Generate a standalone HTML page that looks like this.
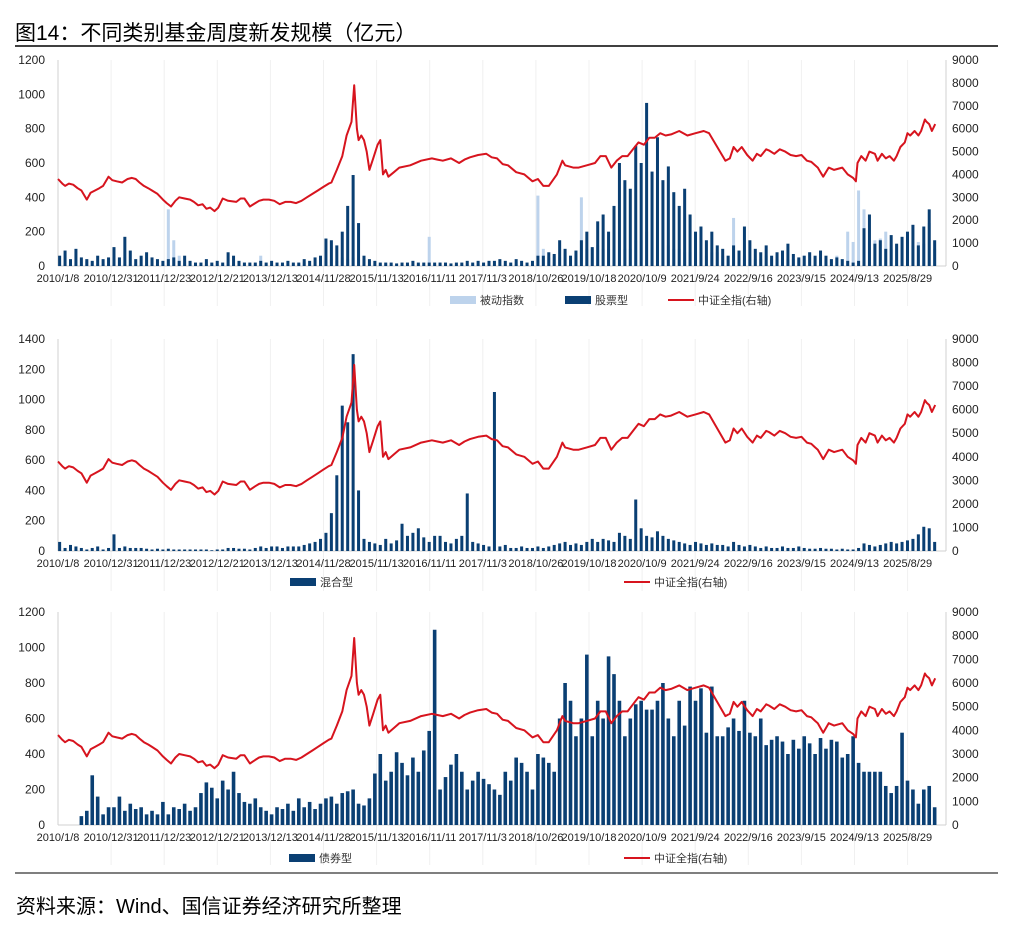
<!DOCTYPE html>
<html><head><meta charset="utf-8">
<style>
body{margin:0;background:#fff;width:1017px;height:932px;overflow:hidden;font-family:"Liberation Sans","Noto Sans CJK SC",sans-serif;}
svg text{font-family:"Liberation Sans","Noto Sans CJK SC",sans-serif;}
</style></head>
<body>
<svg id="c" width="1017" height="932" xmlns="http://www.w3.org/2000/svg">
<text x="15" y="40" font-size="21" fill="#000">图14：不同类别基金周度新发规模（亿元）</text>
<line x1="15" y1="46" x2="998" y2="46" stroke="#000" stroke-width="1.5"/>
<line x1="15" y1="873" x2="998" y2="873" stroke="#555" stroke-width="1.5"/>
<text x="16" y="913" font-size="20" fill="#000">资料来源：Wind、国信证券经济研究所整理</text>
</svg>
<script>
const tickLabels=["2010/1/8","2010/12/31","2011/12/23","2012/12/21","2013/12/13","2014/11/28","2015/11/13","2016/11/11","2017/11/3","2018/10/26","2019/10/18","2020/10/9","2021/9/24","2022/9/16","2023/9/15","2024/9/13","2025/8/29"];
const barStart=2010.05, barStep=0.1;
const passive=[10,10,20,10,10,30,20,10,10,10, 10,40,10,10,10,10,10,10,10,10, 330,150,60,20,10,10,10,10,10,10, 10,10,10,10,20,10,10,60,10,10, 10,10,10,10,10,20,10,10,20,30, 40,30,50,40,50,40,20,10,10,10, 10,10,10,10,10,10,10,10,170,10, 10,10,10,10,10,10,10,10,10,10, 10,10,10,10,10,10,10,10,410,100, 50,60,50,80,60,60,400,100,100,120, 100,100,120,150,100,100,150,150,200,150, 150,150,120,100,100,80,80,80,80,60, 80,80,60,60,280,60,60,40,40,40, 60,40,40,40,40,40,40,60,80,50, 50,40,40,60,40,200,140,440,330,150, 150,160,200,100,120,150,180,120,140,130, 250,100];
const stock=[60,90,40,100,50,40,30,60,40,50, 110,50,170,90,40,60,80,50,40,30, 40,50,30,60,30,20,20,40,20,30, 20,80,60,30,20,20,20,30,20,30, 20,20,30,20,20,40,30,50,60,160, 150,120,200,350,530,250,60,40,30,20, 20,20,15,20,20,30,20,20,20,20, 20,20,15,20,20,30,20,30,20,30, 30,40,30,20,40,30,20,30,60,60, 80,70,150,100,60,90,150,200,110,260, 300,200,350,600,500,450,700,600,950,550, 750,500,580,430,350,450,300,200,230,150, 200,120,100,60,120,90,230,150,100,80, 120,60,80,90,130,70,50,60,80,60, 90,60,40,50,40,30,20,30,220,300, 130,150,100,180,130,170,200,240,120,230, 330,150];
const mixed=[60,20,40,30,20,10,20,30,10,20, 110,20,30,20,20,20,15,10,15,10, 15,10,10,10,10,10,10,10,5,10, 10,20,20,15,15,10,20,30,20,30, 30,20,30,30,30,40,50,60,80,120, 250,500,960,850,1300,400,80,60,50,40, 80,50,70,180,100,120,150,90,60,100, 100,60,50,80,100,380,60,50,40,30, 1050,30,40,20,20,30,20,20,30,20, 30,40,50,60,40,50,40,60,80,60, 80,70,60,120,100,80,340,150,100,90, 130,100,80,70,60,50,40,60,50,40, 50,40,40,30,60,40,30,40,30,20, 30,20,20,30,20,20,30,20,15,15, 20,15,15,10,15,10,10,20,50,40, 30,40,50,60,50,60,70,80,110,160, 150,60];
const bond=[0,0,0,0,50,80,280,160,60,100, 100,160,80,120,90,100,60,80,60,130, 60,100,90,120,80,100,180,240,210,150, 250,200,300,180,130,120,150,100,80,60, 100,90,120,80,150,100,130,90,120,150, 160,120,180,190,200,120,110,150,290,400, 250,300,410,350,280,380,300,420,530,1100, 200,270,340,400,300,200,250,300,260,230, 200,170,300,250,380,350,300,200,400,380, 350,300,600,800,700,500,600,960,500,700, 600,950,850,700,500,600,680,700,650,650, 700,800,600,500,700,560,780,700,770,520, 780,500,500,550,600,530,700,520,500,600, 450,480,500,470,400,480,430,500,460,400, 490,430,480,470,380,400,500,350,300,300, 300,300,220,180,220,520,250,200,120,200, 220,100];
const csiYears=[2010.02,2010.1,2010.15,2010.22,2010.3,2010.38,2010.45,2010.55,2010.62,2010.7,2010.78,2010.85,2010.95,2011.02,2011.1,2011.2,2011.3,2011.38,2011.45,2011.52,2011.6,2011.68,2011.75,2011.85,2011.95,2012.02,2012.1,2012.18,2012.25,2012.35,2012.45,2012.52,2012.6,2012.68,2012.75,2012.82,2012.9,2012.97,2013.05,2013.15,2013.3,2013.38,2013.45,2013.55,2013.65,2013.72,2013.8,2013.9,2014.0,2014.1,2014.2,2014.3,2014.4,2014.5,2014.6,2014.7,2014.8,2014.9,2015.0,2015.05,2015.15,2015.25,2015.33,2015.42,2015.47,2015.52,2015.55,2015.6,2015.65,2015.7,2015.75,2015.82,2015.9,2015.95,2016.0,2016.05,2016.1,2016.2,2016.3,2016.5,2016.7,2016.9,2017.0,2017.1,2017.25,2017.4,2017.5,2017.6,2017.75,2017.9,2018.0,2018.1,2018.2,2018.3,2018.45,2018.6,2018.75,2018.85,2018.95,2019.05,2019.2,2019.3,2019.35,2019.5,2019.6,2019.75,2019.9,2020.0,2020.1,2020.2,2020.3,2020.4,2020.5,2020.6,2020.7,2020.8,2020.9,2021.0,2021.1,2021.2,2021.3,2021.45,2021.6,2021.75,2021.9,2022.0,2022.1,2022.2,2022.3,2022.38,2022.45,2022.52,2022.6,2022.7,2022.8,2022.88,2022.95,2023.05,2023.1,2023.2,2023.3,2023.4,2023.5,2023.6,2023.7,2023.8,2023.88,2023.95,2024.0,2024.05,2024.1,2024.2,2024.3,2024.45,2024.55,2024.65,2024.7,2024.73,2024.8,2024.88,2024.95,2025.05,2025.1,2025.18,2025.25,2025.32,2025.4,2025.45,2025.52,2025.6,2025.65,2025.7,2025.78,2025.85,2025.9,2025.97,2026.0,2026.05,2026.1,2026.16,2026.25];
const csiValues=[3800,3600,3500,3600,3550,3400,3300,2900,3200,3300,3400,3500,3900,3750,3700,3650,3800,3850,3800,3650,3500,3400,3300,3150,2900,2750,2600,2850,3000,2950,2900,2800,2650,2700,2500,2550,2400,2550,2950,2850,2800,2950,2950,2600,2750,2850,2900,2900,2850,2700,2800,2800,2750,2850,3000,3150,3300,3450,3600,3650,4200,4800,5700,6300,7900,6000,5500,5700,5500,5000,4200,4700,5300,5500,4000,4200,3900,4100,4300,4400,4600,4700,4650,4600,4700,4500,4650,4750,4850,4900,4750,4700,4450,4400,4100,4000,3700,3800,3500,3500,4000,4600,4400,4300,4300,4400,4500,4800,4800,4300,4600,4800,4800,5100,5400,5300,5600,5600,5800,5700,5750,5900,5700,5800,5900,5800,5400,5000,4600,4700,5200,5000,5200,4850,4600,4900,4800,5100,5050,4900,5100,5000,4850,4800,4850,4600,4550,4400,4300,4100,3900,4300,4200,4300,4000,3850,3700,4500,4800,4600,5000,4900,4600,4900,4700,4800,4600,4800,5200,5400,5800,5700,5900,5700,5900,6400,6300,6200,5900,6200];

const SVG="http://www.w3.org/2000/svg";
const svg=document.getElementById('c');
const X0=58,X1=946,YR0=2010.02,PXY=54.35;
function xs(yr){return X0+(yr-YR0)*PXY;}
function mk(tag,attrs,parent){const e=document.createElementNS(SVG,tag);for(const k in attrs)e.setAttribute(k,attrs[k]);(parent||svg).appendChild(e);return e;}

function panel(cfg){
  const g=mk('g',{});
  
  
  const top=cfg.top,bot=cfg.bot;
  const yl=v=>bot-(v/cfg.lmax)*(bot-top);
  const yr=v=>bot-(v/9000)*(bot-top);
  tickLabels.forEach((t,i)=>{const x=X0+53.1*i;
    if(i>0){const gl=mk('line',{x1:x,y1:top,x2:x,y2:bot+40,stroke:'#f0f0f0','stroke-width':1},g);
    
    }
    const tx=mk('text',{x:x,y:bot+16,'font-size':11,'text-anchor':'middle',fill:'#222'},g);tx.textContent=t;
    
    
  });
  const la=mk('line',{x1:X0,y1:top,x2:X0,y2:bot,stroke:'#d0d0d0'},g);
  
  
  const ra=mk('line',{x1:X1,y1:top,x2:X1,y2:bot,stroke:'#d0d0d0'},g);
  
  
  const xa=mk('line',{x1:X0,y1:bot,x2:X1,y2:bot,stroke:'#d0d0d0'},g);
  
  
  for(let v=0;v<=cfg.lmax;v+=200){const t=mk('text',{x:45,y:yl(v)+4,'font-size':12,'text-anchor':'end',fill:'#222'},g);t.textContent=v;
    
    }
  for(let v=0;v<=9000;v+=1000){const t=mk('text',{x:952,y:yr(v)+4,'font-size':12,fill:'#222'},g);t.textContent=v;
    
    }
  cfg.series.forEach(s=>{
    s.data.forEach((v,i)=>{if(v<=0)return;const x=xs(barStart+i*barStep);
      const r=mk('rect',{x:x-cfg.bw/2,y:yl(v),width:cfg.bw,height:bot-yl(v),fill:s.color},g);
      
      });
  });
  const pts=csiYears.map((yy,i)=>xs(yy).toFixed(1)+','+yr(csiValues[i]).toFixed(1)).join(' ');
  const pl=mk('polyline',{points:pts,fill:'none',stroke:'#d7141e','stroke-width':2,'stroke-linejoin':'round'},g);
  
  
  cfg.legend.forEach(L=>{
    if(L.line){const l=mk('line',{x1:L.x,y1:cfg.ly,x2:L.x+26,y2:cfg.ly,stroke:'#d7141e','stroke-width':2},g);
      
      }
    else{const r=mk('rect',{x:L.x,y:cfg.ly-4,width:26,height:8,fill:L.color},g);
      
      }
    const t=mk('text',{x:L.x+30,y:cfg.ly+4,'font-size':11,fill:'#333','font-family':'"Noto Serif CJK SC",serif'},g);t.textContent=L.label;
    
    
  });
}
panel({name:'stock-passive-panel',top:60,bot:266,lmax:1200,ly:300,bw:3,
  series:[{data:passive,color:'#bdd3ec',bar:'bar-passive'},{data:stock,color:'#0a3f73',bar:'bar-stock'}],
  legend:[{x:450,color:'#bdd3ec',label:'被动指数'},{x:565,color:'#0a3f73',label:'股票型'},{x:668,line:true,label:'中证全指(右轴)'}]});
panel({name:'mixed-panel',top:339,bot:551,lmax:1400,ly:582,bw:3,
  series:[{data:mixed,color:'#0a3f73',bar:'bar-mixed'}],
  legend:[{x:290,color:'#0a3f73',label:'混合型'},{x:624,line:true,label:'中证全指(右轴)'}]});
panel({name:'bond-panel',top:612,bot:825,lmax:1200,ly:858,bw:3.6,
  series:[{data:bond,color:'#0a3f73',bar:'bar-bond'}],
  legend:[{x:289,color:'#0a3f73',label:'债券型'},{x:624,line:true,label:'中证全指(右轴)'}]});
</script>
</body></html>
